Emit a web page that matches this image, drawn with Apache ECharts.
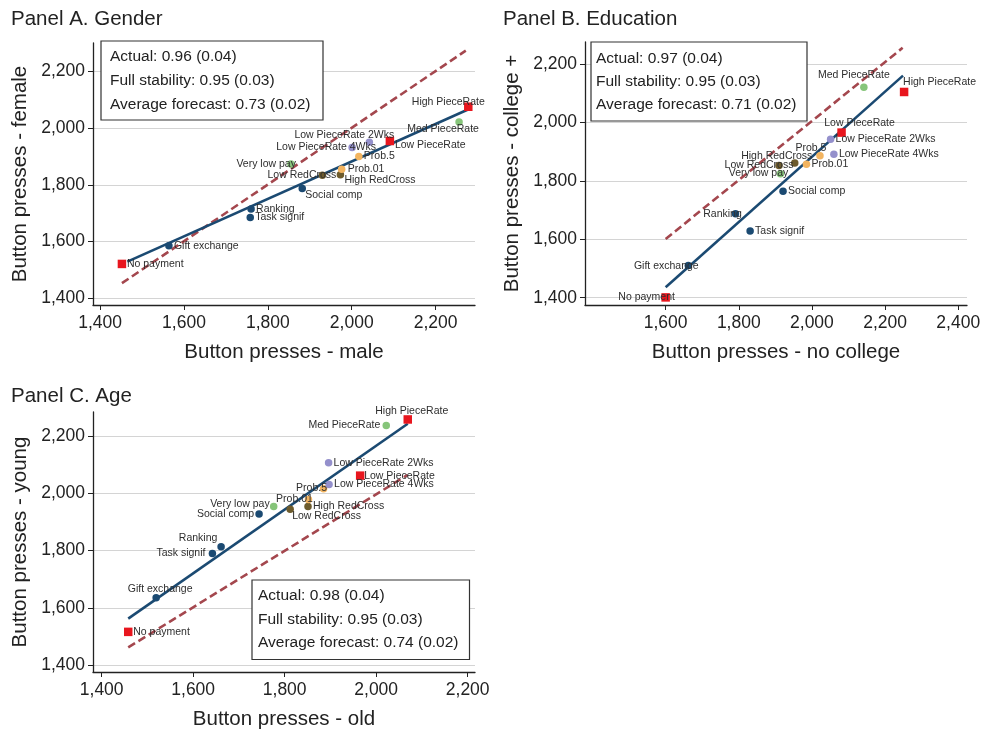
<!DOCTYPE html>
<html>
<head>
<meta charset="utf-8">
<title>Button presses by subgroup</title>
<script src="https://cdn.jsdelivr.net/npm/echarts@6/dist/echarts.min.js"></script>
</head>
<body style="margin:0;background:#fff">
<div id="main" style="width:986px;height:731px;"></div>
<script>
// treatment names, same order in every panel
var names = ['No payment', 'Gift exchange', 'Ranking', 'Task signif', 'Social comp',
    'Very low pay', 'Low RedCross', 'High RedCross', 'Prob.01', 'Prob.5',
    'Low PieceRate 4Wks', 'Low PieceRate 2Wks', 'Low PieceRate', 'Med PieceRate', 'High PieceRate'];
// 0 piece rate (square), 1 psych, 2 pay, 3 charity, 4 probability, 5 delay
var kind = [0, 1, 1, 1, 1, 2, 3, 3, 4, 4, 5, 5, 0, 2, 0];

// Panel A: male (x) vs female (y)
var xA = [1452, 1564, 1760, 1758, 1882, 1855, 1930, 1973, 1976, 2017, 2001, 2042, 2091, 2256, 2278];
var yA = [1521, 1585, 1715, 1685, 1787, 1874, 1834, 1836, 1855, 1900, 1932, 1951, 1955, 2022, 2076];
var fitA = [[1465, 1529], [2280, 2068]];
var diagA = [[1452, 1453], [2272, 2274]];
var statsA = ['Actual: 0.96 (0.04)', 'Full stability: 0.95 (0.03)', 'Average forecast: 0.73 (0.02)'];

// Panel B: no college (x) vs college + (y)
var xB = [1600, 1662, 1791, 1831, 1921, 1914, 1910, 1953, 1985, 2022, 2060, 2051, 2081, 2142, 2252];
var yB = [1401, 1510, 1687, 1628, 1764, 1824, 1852, 1861, 1857, 1886, 1891, 1942, 1965, 2120, 2104];
var fitB = [[1600, 1436], [2249, 2160]];
var diagB = [[1600, 1601], [2248, 2255]];
var statsB = ['Actual: 0.97 (0.04)', 'Full stability: 0.95 (0.03)', 'Average forecast: 0.71 (0.02)'];

// Panel C: old (x) vs young (y)
var xC = [1458, 1519, 1661, 1642, 1744, 1776, 1812, 1851, 1852, 1885, 1897, 1896, 1965, 2022, 2069];
var yC = [1516, 1635, 1813, 1789, 1927, 1953, 1944, 1953, 1978, 2015, 2030, 2106, 2061, 2236, 2257];
var fitC = [[1458, 1562], [2069, 2242]];
var diagC = [[1458, 1462], [2069, 2064]];
var statsC = ['Actual: 0.98 (0.04)', 'Full stability: 0.95 (0.03)', 'Average forecast: 0.74 (0.02)'];

var ticks = [1400, 1600, 1800, 2000, 2200];
var ticksBx = [1600, 1800, 2000, 2200, 2400];

// label placement for each point: [align, dx, dy]
var placeA = [['left',5,0],['left',5,0],['left',5,0],['left',5,0],['left',3,7],['right',5,0],['right',14,0],
    ['left',4,5],['left',6,0],['left',5,0],['center',-26,0],['center',-25,-7],['left',5,4],['center',-16,7],['center',-20,-5]];
var placeB = [['center',-19,0],['center',-22,1],['center',-13,0],['left',5,0],['left',5,0],['center',-22,-1],['center',-20,-1],
    ['center',-18,-7],['left',5,0],['center',-9,-8],['left',5,0],['left',5,0],['center',18,-9],['center',-10,-12],['left',-1,-10]];
var placeC = [['left',5,0],['center',4,-9],['center',-23,-9],['right',-7,-1],['right',-5,0],['right',-4,-2],['left',2,7],
    ['left',5,0],['center',-14,0],['center',-12,-1],['left',5,0],['left',5,0],['left',4,0],['right',-6,0],['center',4,-8]];

var kindColor = ['#e8161e', '#1b4a72', '#86c57a', '#6d5b2c', '#f2b460', '#9490cc'];
var font = 'Liberation Sans, Arial, sans-serif';
var ink = '#222';

function fmt(v) { return v.toLocaleString('en-US'); }

var grids = [], xAxes = [], yAxes = [], series = [], graphics = [];

function addPanel(i, g, xs, ys, fit, diag, place, xr, yr, xticks, xname, yname, box, stats) {
    grids.push({ left: g[0], top: g[1], width: g[2], height: g[3] });
    var axisBase = {
        gridIndex: i, type: 'value',
        axisLine: { show: true, onZero: false, lineStyle: { color: ink, width: 1.3 } },
        nameLocation: 'middle',
        nameTextStyle: { fontSize: 20.5, color: ink, fontFamily: font }
    };
    xAxes.push(Object.assign({}, axisBase, {
        min: xr[0], max: xr[1], name: xname, nameGap: 37,
        axisTick: { show: true, length: 5, customValues: xticks, lineStyle: { color: ink } },
        axisLabel: { customValues: xticks, formatter: fmt, fontSize: 17.5, color: ink, fontFamily: font, margin: 9 },
        splitLine: { show: false }
    }));
    yAxes.push(Object.assign({}, axisBase, {
        min: yr[0], max: yr[1], name: yname, nameGap: 62, nameRotate: 90,
        axisTick: { show: true, length: 5, customValues: ticks, lineStyle: { color: ink } },
        axisLabel: { customValues: ticks, formatter: fmt, fontSize: 17.5, color: ink, fontFamily: font, margin: 8 },
        splitLine: { show: true, lineStyle: { color: '#d4d4d4', width: 1.2 } }
    }));
    series.push({
        type: 'line', xAxisIndex: i, yAxisIndex: i, data: diag, symbol: 'none', z: 2,
        lineStyle: { color: '#a4474e', width: 2.6, type: [8, 4] }, silent: true
    });
    series.push({
        type: 'line', xAxisIndex: i, yAxisIndex: i, data: fit, symbol: 'none', z: 3,
        lineStyle: { color: '#1b4a72', width: 2.6 }, silent: true
    });
    var pts = names.map(function (n, k) {
        var sq = kind[k] === 0;
        return {
            name: n, value: [xs[k], ys[k]],
            symbol: sq ? 'rect' : 'circle', symbolSize: sq ? 8.5 : 7.5,
            itemStyle: { color: kindColor[kind[k]], opacity: 1 },
            label: { align: place[k][0], offset: [place[k][1], place[k][2]] }
        };
    });
    series.push({
        type: 'scatter', xAxisIndex: i, yAxisIndex: i, data: pts, z: 5,
        label: {
            show: true, position: 'inside', formatter: '{b}', verticalAlign: 'middle',
            fontSize: 10.5, color: '#2e2e2e', fontFamily: font
        }
    });
    // stats box
    graphics.push({
        type: 'rect', shape: { x: box[0], y: box[1], width: box[2], height: box[3] },
        style: { fill: '#fff', stroke: '#333', lineWidth: 1.2 }, z: 10
    });
    stats.forEach(function (s, k) {
        graphics.push({
            type: 'text', x: box[4], y: box[5] + k * box[6], z: 11,
            style: { text: s, fontSize: 15.5, fill: ink, font: '15.5px ' + font, verticalAlign: 'middle' }
        });
    });
}

addPanel(0, [93, 43, 382, 262], xA, yA, fitA, diagA, placeA, [1383, 2294], [1376, 2301], ticks,
    'Button presses - male', 'Button presses - female', [101, 41, 222, 79, 110, 56.5, 24.3], statsA);
addPanel(1, [585, 42, 382, 263], xB, yB, fitB, diagB, placeB, [1379.5, 2424], [1375, 2275], ticksBx,
    'Button presses - no college', 'Button presses - college +', [591, 42, 216, 79, 596, 58.3, 23.4], statsB);
addPanel(2, [93, 412, 382, 263], xC, yC, fitC, diagC, placeC, [1381, 2216], [1376, 2283], ticks,
    'Button presses - old', 'Button presses - young', [252, 580, 217.5, 79.5, 258, 596, 23.4], statsC);

[['Panel A. Gender', 11, 19], ['Panel B. Education', 503, 19], ['Panel C. Age', 11, 396]].forEach(function (t) {
    graphics.push({
        type: 'text', x: t[1], y: t[2],
        style: { text: t[0], font: '20.5px ' + font, fill: ink, verticalAlign: 'middle' }
    });
});

var myChart = echarts.init(document.getElementById('main'));
myChart.setOption({
    backgroundColor: '#fff',
    animation: false,
    grid: grids,
    xAxis: xAxes,
    yAxis: yAxes,
    series: series,
    graphic: graphics
});
</script>
</body>
</html>
